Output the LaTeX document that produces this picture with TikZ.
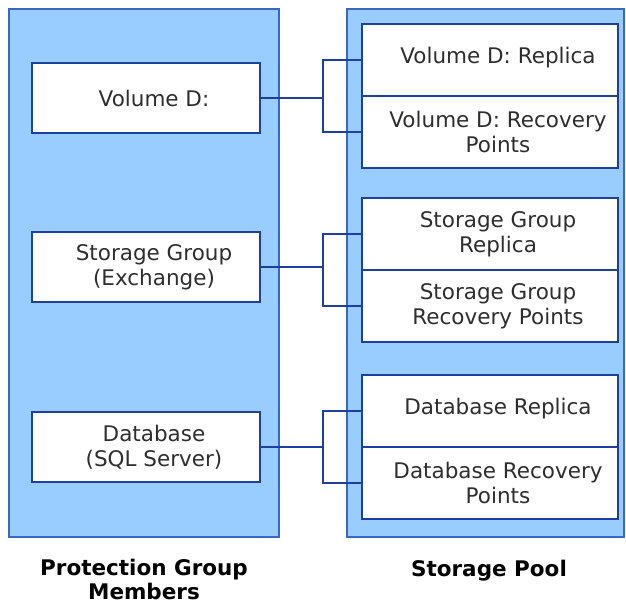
\documentclass[tikz,border=0pt]{standalone}
\usepackage{fontspec}
\setmainfont{DejaVu Sans}

\definecolor{panelfill}{HTML}{99CCFF}
\definecolor{panelline}{HTML}{3A66C4}
\definecolor{boxline}{HTML}{1C3FA0}
\definecolor{textgray}{HTML}{2E2E2E}

\tikzset{
  panel/.style={draw=panelline, fill=panelfill, line width=2.2pt},
  member/.style={draw=boxline, fill=white, line width=2.2pt, inner sep=0pt,
    minimum width=228pt, minimum height=70pt},
  store/.style={member, minimum width=256pt, minimum height=72pt},
  txt/.style={text=textgray, align=center, font=\fontsize{21.5}{25}\selectfont},
  caption/.style={text=black, align=center, inner sep=0pt, font=\fontsize{21.5}{24}\selectfont\bfseries},
  conn/.style={draw=boxline, line width=2.6pt}
}

\begin{document}
\begin{tikzpicture}[x=1pt,y=-1pt]
\useasboundingbox (0,0) rectangle (626,606);
% the two panels
\draw[panel] (9,9) rectangle (279,537);
\draw[panel] (347,9) rectangle (624,537);

% protection group members
\node[member] (vol) at (146,98) {};
\node[member] (sg) at (146,267) {};
\node[member] (db) at (146,447) {};

% storage pool
\node[store] (volrep) at (490,60) {};
\node[store] (volrec) at (490,132) {};
\node[store] (sgrep) at (490,234) {};
\node[store] (sgrec) at (490,306) {};
\node[store] (dbrep) at (490,411) {};
\node[store] (dbrec) at (490,483) {};

% brackets
\coordinate (b1) at (323,98);
\coordinate (b2) at (323,267);
\coordinate (b3) at (323,447);
\draw[conn] (vol.east) -- (b1);
\draw[conn] (volrep.west) -| (b1) |- (volrec.west);
\draw[conn] (sg.east) -- (b2);
\draw[conn] (sgrep.west) -| (b2) |- (sgrec.west);
\draw[conn] (db.east) -- (b3);
\draw[conn] (dbrep.west) -| (b3) |- (dbrec.west);

% texts
\node[txt] (voltxt) at ([xshift=8pt]vol.center) {Volume D:};
\node[txt] (sgtxt) at ([xshift=8pt]sg.center) {Storage Group\\(Exchange)};
\node[txt] (dbtxt) at ([xshift=8pt]db.center) {Database\\(SQL Server)};
\node[txt] (volreptxt) at ([xshift=8pt,yshift=2pt]volrep.center) {Volume D: Replica};
\node[txt] (volrectxt) at ([xshift=8pt]volrec.center) {Volume D: Recovery\\Points};
\node[txt] (sgreptxt) at ([xshift=8pt]sgrep.center) {Storage Group\\Replica};
\node[txt] (sgrectxt) at ([xshift=8pt]sgrec.center) {Storage Group\\Recovery Points};
\node[txt] (dbreptxt) at ([xshift=8pt,yshift=2pt]dbrep.center) {Database Replica};
\node[txt] (dbrectxt) at ([xshift=8pt]dbrec.center) {Database Recovery\\Points};

% captions
\node[caption] (pgm) at (144,579) {Protection Group\\Members};
\node[caption] (pool) at (489,571) {Storage Pool};
\end{tikzpicture}
\end{document}
